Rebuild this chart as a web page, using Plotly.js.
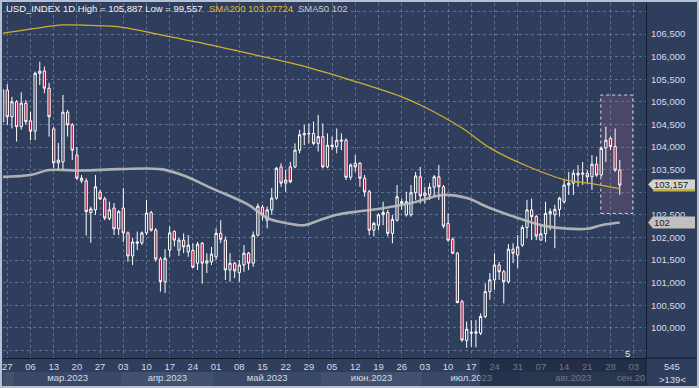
<!DOCTYPE html>
<html><head><meta charset="utf-8">
<script src="https://cdn.plot.ly/plotly-3.0.1.min.js"></script>
<style>html,body{margin:0;padding:0;background:#2f3e5d;}#chart{width:699px;height:388px;}</style>
</head><body><div id="chart"></div>
<script>
// ---- data (trading-day index: 0 = 24 Feb 2023, 1 = 27 Feb 2023 ...) ----
const openP = [104.56,105.26,104.67,105.00,104.45,104.97,104.58,104.35,105.63,105.68,
105.30,104.40,103.65,103.67,104.77,104.49,103.82,103.25,103.25,102.55,
102.61,103.00,102.85,102.42,102.65,102.19,102.65,102.10,101.59,101.87,
101.88,102.10,102.55,102.16,101.52,101.02,101.72,102.13,101.72,101.94,
101.68,101.71,101.43,101.87,101.43,101.46,101.57,102.09,101.94,101.28,
101.43,101.22,101.39,101.65,101.43,102.05,102.67,102.38,102.61,102.87,
103.56,103.20,103.56,103.56,103.93,104.27,104.29,104.30,104.08,104.23,
103.56,104.01,104.01,104.13,104.15,103.33,103.64,103.64,103.31,103.01,
102.16,102.27,102.50,102.55,102.09,102.38,102.75,102.50,102.50,102.99,
103.34,102.92,102.94,103.11,103.34,103.12,102.31,101.96,101.65,100.58,
99.72,99.88,99.88,99.88,100.25,100.80,101.06,101.39,101.24,101.02,
101.74,101.61,101.83,102.22,102.61,102.46,101.94,102.08,102.52,102.50,
102.62,102.79,103.16,103.20,103.38,103.40,103.42,103.34,103.62,103.38,
103.98,104.19,104.01,103.49];
const highP = [105.31,105.39,105.11,105.04,105.21,105.04,104.78,105.67,105.887,105.78,
105.42,104.45,104.09,105.15,104.82,104.53,104.00,103.38,103.31,102.68,
103.38,103.05,102.90,102.79,102.76,102.61,103.09,102.13,101.99,102.13,
102.13,102.83,102.59,102.21,101.57,101.74,102.24,102.16,101.99,102.09,
102.05,101.87,101.90,101.90,101.65,101.79,102.20,102.38,102.02,101.65,
101.46,101.50,101.83,101.68,102.13,102.75,102.72,102.68,103.09,103.56,
103.64,103.49,103.67,104.08,104.38,104.49,104.52,104.56,104.71,104.52,
104.30,104.23,104.41,104.30,104.19,103.64,103.82,103.67,103.38,103.05,
102.35,102.53,102.79,102.61,102.50,103.16,102.86,103.01,103.16,103.45,
103.56,103.12,103.20,103.38,103.60,103.16,102.53,102.00,101.68,100.62,
100.14,100.17,100.17,100.32,100.98,101.21,101.65,101.46,101.28,101.85,
101.87,102.05,102.27,102.83,102.86,102.50,102.27,102.79,102.64,102.72,
102.90,103.27,103.45,103.49,103.60,103.67,103.49,103.82,103.79,104.01,
104.45,104.23,104.41,103.71];
const lowP = [104.49,104.49,104.41,104.12,104.38,104.49,104.15,104.15,105.37,105.19,
104.23,103.54,103.49,103.49,104.23,103.71,103.27,103.20,102.04,101.88,
102.50,102.83,102.38,102.38,102.05,102.05,101.90,101.46,101.39,101.72,
101.83,102.05,102.13,101.46,100.80,100.77,101.57,101.80,101.59,101.65,
101.57,101.32,101.28,100.98,101.21,101.39,101.50,101.87,101.06,101.02,
101.10,101.02,101.24,101.28,101.35,102.02,102.38,102.20,102.50,102.83,
103.12,103.01,103.20,103.53,103.86,104.04,104.08,104.04,103.90,103.53,
103.53,103.93,103.86,103.93,103.27,103.27,103.45,103.12,102.90,102.05,
102.02,102.16,102.27,102.02,101.87,102.35,102.61,102.46,102.46,102.83,
102.75,102.75,102.83,102.90,102.83,102.20,101.90,101.63,100.54,99.69,
99.557,99.58,99.57,99.84,100.21,100.62,100.84,101.06,100.54,100.98,
101.43,101.32,101.79,101.98,101.94,101.94,101.93,101.90,102.16,101.76,
102.46,102.75,102.94,102.94,103.12,103.16,103.20,103.05,103.34,103.34,
103.67,103.93,103.45,102.94];
const closeP = [105.26,104.67,105.00,104.45,104.97,104.56,104.35,105.63,105.68,105.30,
104.67,103.65,103.71,104.77,104.49,103.93,103.31,103.31,102.57,102.63,
103.12,102.85,102.43,102.61,102.19,102.57,102.10,101.59,101.90,101.90,
102.10,102.54,102.16,101.52,101.02,101.54,102.10,101.94,101.94,101.79,
101.83,101.34,101.85,101.43,101.48,101.63,102.09,101.96,101.28,101.43,
101.26,101.39,101.65,101.43,102.05,102.69,102.50,102.61,102.87,103.53,
103.20,103.27,103.23,103.93,104.27,104.30,104.30,104.08,104.23,103.56,
104.04,104.04,104.15,104.15,103.33,103.60,103.56,103.31,103.01,102.16,
102.31,102.50,102.55,102.09,102.40,102.90,102.79,102.79,102.99,103.36,
102.92,102.98,103.11,103.34,103.12,102.25,101.94,101.65,100.56,99.73,
99.97,99.90,99.91,100.25,100.80,101.06,101.39,101.24,101.02,101.74,
101.65,101.79,102.22,102.61,102.46,102.03,102.08,102.53,102.57,102.62,
102.87,103.16,103.20,103.42,103.42,103.42,103.34,103.62,103.38,103.97,
104.15,104.01,103.49,103.157];
const dayIdx = openP.map((_, i) => i);

const sma200Idx = [0,6,13,19,25,30,36,42,53,64,75,86,91,99,105,113,121,127,133];
const sma200Val = [106.52,106.61,106.70,106.69,106.66,106.57,106.44,106.32,106.07,105.81,105.48,105.11,104.88,104.42,103.98,103.58,103.28,103.19,103.077];
const sma50Idx = [0,6,10,17,25,34,39,45,53,57,61,65,68,72,77,81,88,95,100,105,111,117,126,129,133];
const sma50Val = [103.34,103.38,103.49,103.48,103.51,103.51,103.37,103.09,102.72,102.43,102.32,102.27,102.37,102.50,102.58,102.63,102.76,102.94,102.87,102.65,102.43,102.25,102.19,102.27,102.33];

const weekTickIdx = [1,6,11,16,21,26,31,36,41,46,51,56,61,66,71,76,81,86,91,96,101,106,111,116,121,126,131,136];
const weekTickText = ['27','06','13','20','27','03','10','17','24','01','08','15','22','29','05','12','19','26','03','10','17','24','31','07','14','21','28','03'];

const monthNames = ['мар.2023','апр.2023','май.2023','июн.2023','июл.2023','авг.2023','сен.2023'];
const monthFirst = [3,26,46,69,91,112,135];
const monthLast  = [25,45,68,90,111,134,155];

// 103,000 sits under the last-price flag in the reference, so it is not printed
const priceTicks = [99.5,100,100.5,101,101.5,102,102.5,103,103.5,104,104.5,105,105.5,106,106.5,107];
const priceTickText = ['','100,000','100,500','101,000','101,500','102,000','102,500','','103,500','104,000','104,500','105,000','105,500','106,000','106,500',''];

const highlightBox = {x0:128.9, x1:135.8, y0:102.53, y1:105.15};

// ---- layout constants ----
const W = 699, H = 388, ML = 3, MR = 53, MT = 3, MB = 30;
const PW = W - ML - MR, PH = H - MT - MB;
const xRange = [0.073, 138.65];
const px = p => (p - ML) / PW;
const py = p => (H - MB - p) / PH;

const NAVY = '#2f3e5d';
const GRID = 'rgba(135,152,185,0.55)';
const TXT = '#d6dce8';
const FONT = 'Liberation Sans, Arial, sans-serif';

const traces = [
  {
    type: 'candlestick', x: dayIdx, open: openP, high: highP, low: lowP, close: closeP,
    increasing: {line: {color: '#ffffff', width: 1}, fillcolor: NAVY},
    decreasing: {line: {color: '#ffffff', width: 1}, fillcolor: '#b3173f'},
    whiskerwidth: 0, hoverinfo: 'skip', showlegend: false
  },
  {
    type: 'scatter', mode: 'lines', x: sma200Idx, y: sma200Val,
    line: {color: '#d2ae2e', width: 1.3, shape: 'spline'}, hoverinfo: 'skip', showlegend: false
  },
  {
    type: 'scatter', mode: 'lines', x: sma50Idx, y: sma50Val,
    line: {color: 'rgba(192,192,192,0.88)', width: 2.6, shape: 'spline'}, hoverinfo: 'skip', showlegend: false
  },
  {
    type: 'scatter', mode: 'lines', x: [monthFirst[0]], y: [null], xaxis: 'x2', yaxis: 'y',
    hoverinfo: 'skip', showlegend: false
  }
];

// month label positions: centre of the visible part of each month band
const monthPos = monthFirst.map((f, k) => {
  const a = Math.max(f - 0.5, xRange[0]);
  const b = Math.min(monthLast[k] + 0.5, xRange[1]);
  return (a + b) / 2;
});

const shapes = [];
const bandStarts = [0].concat(monthFirst);
const bandEnds = [2].concat(monthLast);
bandStarts.forEach((s, k) => {
  shapes.push({type: 'rect', xref: 'x', yref: 'paper', x0: s - 0.5, x1: bandEnds[k] + 0.5,
    y0: py(386), y1: py(372), fillcolor: (k % 2 === 0) ? '#42516d' : '#394866',
    line: {width: 0}, layer: 'below'});
});
shapes.push({type: 'rect', xref: 'x', yref: 'y', x0: highlightBox.x0, x1: highlightBox.x1,
  y0: highlightBox.y0, y1: highlightBox.y1, fillcolor: 'rgba(185,110,150,0.20)',
  line: {color: 'rgba(235,235,235,0.9)', width: 1, dash: 'dot'}, layer: 'below'});
shapes.push({type: 'rect', xref: 'x', yref: 'paper', x0: 102.8, x1: 145,
  y0: py(388), y1: py(358.5), fillcolor: 'rgba(24,32,52,0.55)', line: {width: 0}, layer: 'above'});
shapes.push({type: 'rect', xref: 'paper', yref: 'paper', x0: px(646), x1: px(699),
  y0: py(388), y1: py(358), fillcolor: NAVY, line: {color: '#141c30', width: 1}, layer: 'above'});
const lastClose = closeP[closeP.length - 1];
const lastSma50 = sma50Val[sma50Val.length - 1];
shapes.push({type: 'path', xref: 'paper', xsizemode: 'pixel', xanchor: 1, yref: 'y', ysizemode: 'pixel',
  yanchor: lastClose, path: 'M 7 5.5 L 49 5.5 L 49 -4.5 L 7 -4.5 L 2 0.5 Z',
  fillcolor: '#d5d5cf', line: {width: 0}, layer: 'above'});
shapes.push({type: 'path', xref: 'paper', xsizemode: 'pixel', xanchor: 1, yref: 'y', ysizemode: 'pixel',
  yanchor: lastClose, path: 'M 7 -4 L 49 -4 L 49 -6.5 L 7 -6.5 Z',
  fillcolor: '#c9b23a', line: {width: 0}, layer: 'above'});
shapes.push({type: 'path', xref: 'paper', xsizemode: 'pixel', xanchor: 1, yref: 'y', ysizemode: 'pixel',
  yanchor: lastSma50, path: 'M 7 6 L 49 6 L 49 -6 L 7 -6 L 2 0 Z',
  fillcolor: '#c3c1bd', line: {width: 0}, layer: 'above'});
shapes.push({type: 'rect', xref: 'paper', yref: 'paper', x0: px(1), x1: px(698), y0: py(387), y1: py(1),
  fillcolor: 'rgba(0,0,0,0)', line: {color: '#b7c0d0', width: 2}, layer: 'above'});

const f = (size, color) => ({family: FONT, size: size, color: color});
const annotations = [
  {xref: 'paper', yref: 'paper', x: px(4), y: py(8.5), xanchor: 'left', yanchor: 'middle', showarrow: false,
   text: 'USD_INDEX 1D High = 105,887 Low = 99,557', font: f(9.5, '#f2f4f8')},
  {xref: 'paper', yref: 'paper', x: px(207), y: py(8.5), xanchor: 'left', yanchor: 'middle', showarrow: false,
   text: 'SMA200 103,07724', font: f(9.5, '#e2bb34')},
  {xref: 'paper', yref: 'paper', x: px(296), y: py(8.5), xanchor: 'left', yanchor: 'middle', showarrow: false,
   text: 'SMA50 102', font: f(9.5, '#c9c9c9')},
  {xref: 'paper', yref: 'paper', x: px(627), y: py(353), xanchor: 'center', yanchor: 'middle', showarrow: false,
   text: '5', font: f(9.5, '#e6e9ef')},
  {xref: 'paper', yref: 'paper', x: px(672), y: py(366), xanchor: 'center', yanchor: 'middle', showarrow: false,
   text: '545', font: f(9.5, TXT)},
  {xref: 'paper', yref: 'paper', x: px(672), y: py(380), xanchor: 'center', yanchor: 'middle', showarrow: false,
   text: '&gt;139&lt;', font: f(9.5, TXT)},
  {xref: 'paper', yref: 'y', x: px(652), y: lastClose, yshift: 0.5, xanchor: 'left', yanchor: 'middle', showarrow: false,
   text: '103,157', font: f(9.5, '#1c1c1c')},
  {xref: 'paper', yref: 'y', x: px(652), y: lastSma50, xanchor: 'left', yanchor: 'middle', showarrow: false,
   text: '102', font: f(9.5, '#1c1c1c')}
];

const layout = {
  width: W, height: H, autosize: false,
  margin: {l: ML, r: MR, t: MT, b: MB, pad: 0},
  paper_bgcolor: NAVY, plot_bgcolor: NAVY,
  showlegend: false, dragmode: false, boxgap: 0.3,
  xaxis: {
    range: xRange, rangeslider: {visible: false}, fixedrange: true,
    tickmode: 'array', tickvals: weekTickIdx, ticktext: weekTickText,
    ticks: '', tickfont: f(9.5, TXT),
    showgrid: true, gridcolor: GRID, griddash: '3px,3px', gridwidth: 1,
    zeroline: false, showline: true, linecolor: '#121a2c', linewidth: 1
  },
  xaxis2: {
    overlaying: 'x', anchor: 'y', side: 'bottom', range: xRange, fixedrange: true,
    tickmode: 'array', tickvals: monthPos, ticktext: monthNames,
    ticks: '', ticklabelstandoff: 12, tickfont: f(9.5, TXT),
    showgrid: false, zeroline: false, showline: false
  },
  yaxis: {
    side: 'right', range: [99.332, 107.186], fixedrange: true,
    tickmode: 'array', tickvals: priceTicks, ticktext: priceTickText,
    ticks: 'outside', ticklen: 2, tickcolor: NAVY, tickfont: f(9.5, TXT),
    showgrid: true, gridcolor: GRID, griddash: '3px,3px', gridwidth: 1,
    zeroline: false, showline: true, linecolor: '#121a2c', linewidth: 1
  },
  shapes: shapes,
  annotations: annotations
};

Plotly.newPlot('chart', traces, layout, {staticPlot: true, displayModeBar: false});
</script>
</body></html>
